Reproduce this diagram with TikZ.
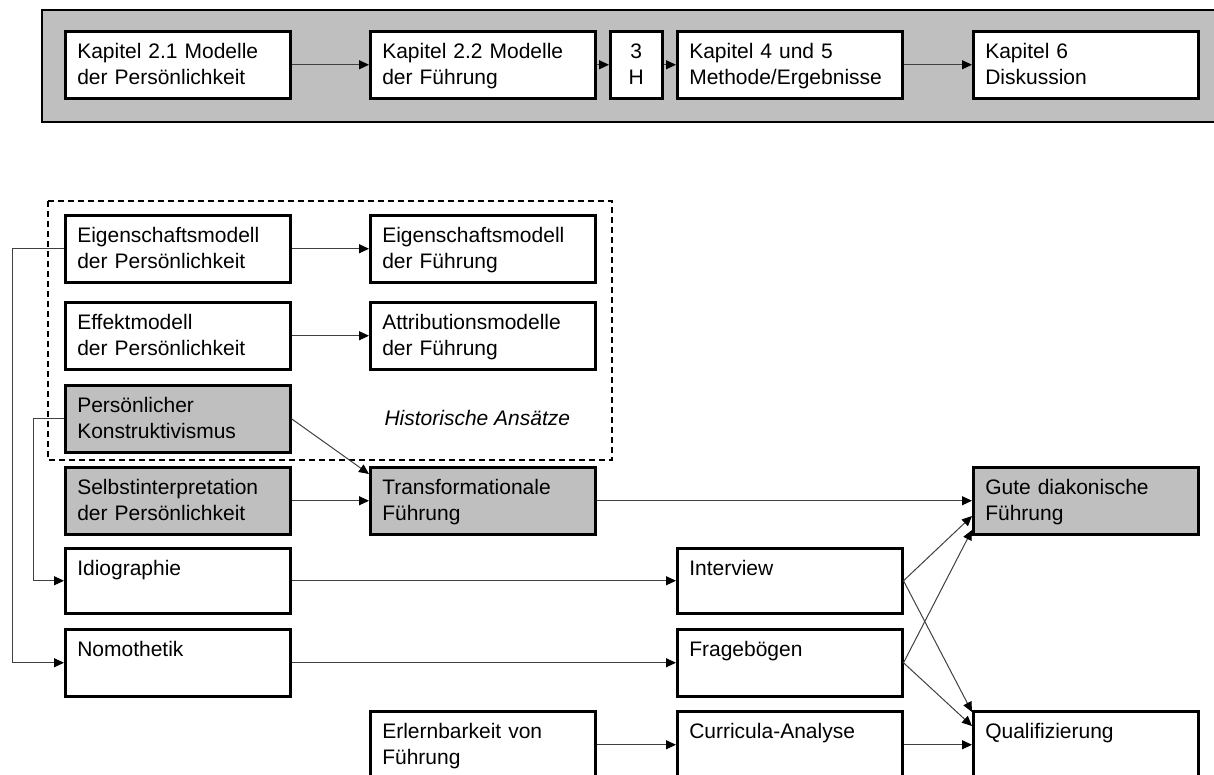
\documentclass[tikz,border=0pt]{standalone}
\usepackage{fontspec}
\setmainfont{Liberation Sans}
\usetikzlibrary{arrows.meta}

\begin{document}
\begin{tikzpicture}[x=1pt,y=-1pt,
    >={Triangle[length=10pt,width=9pt,color=black]},
    box/.style={draw, fill=white, line width=2.5pt, anchor=north west, align=left, text width=201pt,
        inner xsep=12pt, inner ysep=0pt, text height=27pt, text depth=40pt,
        font=\fontsize{21}{26}\selectfont},
    grey/.style={fill=black!25},
    link/.style={->, draw=black!75, line width=1pt}]
    \useasboundingbox (0,0) rectangle (1214,774);
    \draw[line width=2.5pt, fill=black!25] (42,10) rectangle (1222,122);
    \node (k21) [box] at (64,30) {Kapitel 2.1 Modelle\\der Persönlichkeit};
    \node (k22) [box] at (369,30) {Kapitel 2.2 Modelle\\der Führung};
    \node (h3) [box, text width=28pt, align=center] at (609,30) {3\\H};
    \node (k45) [box] at (676,30) {Kapitel 4 und 5\\Methode/Ergebnisse};
    \node (k6) [box] at (972,30) {Kapitel 6\\Diskussion};
    \draw[link] (k21) -- (k22);
    \draw[link] (k22) -- (h3);
    \draw[link] (h3) -- (k45);
    \draw[link] (k45) -- (k6);

    \draw[line width=1.5pt, dash pattern=on 6pt off 4pt] (48,201) rectangle (612,460);
    \node (hist) [anchor=base west, font=\fontsize{21}{26}\selectfont\itshape] at (381,425) {Historische Ansätze};

    \node (ep) [box] at (64,214) {Eigenschaftsmodell\\der Persönlichkeit};
    \node (ef) [box] at (369,214) {Eigenschaftsmodell\\der Führung};
    \node (effp) [box] at (64,301) {Effektmodell\\der Persönlichkeit};
    \node (attr) [box] at (369,301) {Attributionsmodelle\\der Führung};
    \node (pk) [box, grey] at (64,384) {Persönlicher\\Konstruktivismus};
    \node (sp) [box, grey] at (64,466) {Selbstinterpretation\\der Persönlichkeit};
    \node (tf) [box, grey] at (369,466) {Transformationale\\Führung};
    \node (gdf) [box, grey] at (972,466) {Gute diakonische\\Führung};
    \node (idio) [box, text depth=38pt] at (64,547) {Idiographie};
    \node (iv) [box, text depth=38pt] at (676,547) {Interview};
    \node (nomo) [box] at (64,628) {Nomothetik};
    \node (fb) [box] at (676,628) {Fragebögen};
    \node (erl) [box] at (369,710) {Erlernbarkeit von\\Führung};
    \node (cur) [box] at (676,710) {Curricula-Analyse};
    \node (qual) [box] at (972,710) {Qualifizierung};

    \draw[link] (ep) -- (ef);
    \draw[link] (effp) -- (attr);
    \draw[link] (pk.east) -- ([yshift=-8pt]tf.north west);
    \draw[link] (sp) -- (tf);
    \draw[link] (tf) -- (gdf);
    \draw[link] (idio) -- (iv);
    \draw[link] (nomo) -- (fb);
    \draw[link] (erl) -- (cur);
    \draw[link] (cur) -- (qual);
    \draw[link] (iv.east) -- ([yshift=-50pt]gdf.north west);
    \draw[link] (fb.east) -- ([yshift=-64pt]gdf.north west);
    \draw[link] (iv.east) -- ([yshift=-2pt]qual.north west);
    \draw[link] (fb.east) -- ([yshift=-16pt]qual.north west);
    \draw[link] (ep.west) -- ++(-52,0) |- (nomo.west);
    \draw[link] (pk.west) -- ++(-31,0) |- (idio.west);
\end{tikzpicture}
\end{document}
